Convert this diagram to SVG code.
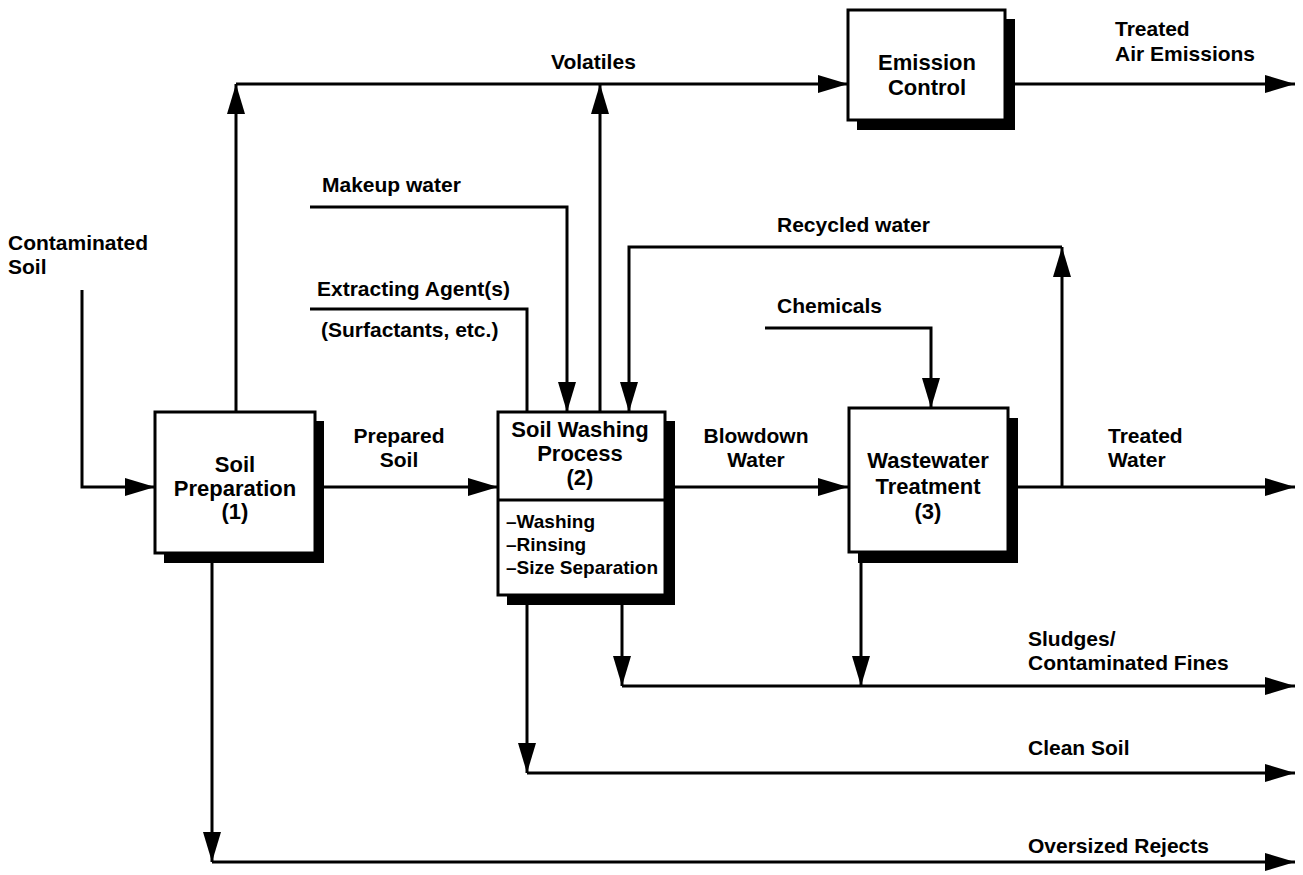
<svg xmlns="http://www.w3.org/2000/svg" width="1303" height="875" viewBox="0 0 1303 875">
<defs>
<marker id="ah" markerUnits="userSpaceOnUse" markerWidth="32" markerHeight="20" refX="30" refY="10" orient="auto">
<path d="M0,1 L30,10 L0,19 z" fill="#000"/>
</marker>
<style>
text{font-family:"Liberation Sans",Arial,sans-serif;font-weight:bold;font-size:21px;fill:#000}
.c{text-anchor:middle}
.t{font-size:22px}
.s{font-size:19px}
.box{fill:#fff;stroke:#000;stroke-width:3}
.sh{fill:#000}
.ln{fill:none;stroke:#000;stroke-width:3}
.ar{marker-end:url(#ah)}
</style>
</defs>
<rect width="1303" height="875" fill="#fff"/>

<g id="connectors">
<polyline class="ln ar" points="82,290 82,487 155,487"/>
<polyline class="ln ar" points="236,412 236,84"/>
<polyline class="ln ar" points="236,84 848,84"/>
<polyline class="ln ar" points="600,412 600,84"/>
<polyline class="ln ar" points="1006,84 1295,84"/>
<polyline class="ln ar" points="310,207 567,207 567,412"/>
<polyline class="ln" points="310,309 527,309 527,412"/>
<polyline class="ln ar" points="1062,487 1062,247"/>
<polyline class="ln ar" points="1062,247 629,247 629,412"/>
<polyline class="ln ar" points="765,328 931,328 931,408"/>
<polyline class="ln ar" points="324,487 498,487"/>
<polyline class="ln ar" points="675,487 848,487"/>
<polyline class="ln ar" points="1017,487 1295,487"/>
<polyline class="ln ar" points="622,605 622,686"/>
<polyline class="ln ar" points="861,563 861,686"/>
<polyline class="ln ar" points="622,686 1295,686"/>
<polyline class="ln ar" points="527,605 527,773"/>
<polyline class="ln ar" points="527,773 1295,773"/>
<polyline class="ln ar" points="212,563 212,862"/>
<polyline class="ln ar" points="212,862 1295,862"/>
</g>

<g id="labels">
<text x="551" y="69">Volatiles</text>
<text x="1115" y="36">Treated</text>
<text x="1115" y="61">Air Emissions</text>
<text x="8" y="250">Contaminated</text>
<text x="8" y="274">Soil</text>
<text x="322" y="192">Makeup water</text>
<text x="317" y="296">Extracting Agent(s)</text>
<text x="321" y="337">(Surfactants, etc.)</text>
<text x="777" y="232">Recycled water</text>
<text x="777" y="313">Chemicals</text>
<text class="c" x="399" y="443">Prepared</text>
<text class="c" x="399" y="467">Soil</text>
<text class="c" x="756" y="443">Blowdown</text>
<text class="c" x="756" y="467">Water</text>
<text x="1108" y="443">Treated</text>
<text x="1108" y="467">Water</text>
<text x="1028" y="646">Sludges/</text>
<text x="1028" y="670">Contaminated Fines</text>
<text x="1028" y="755">Clean Soil</text>
<text x="1028" y="853">Oversized Rejects</text>
</g>

<g id="soil-preparation">
<rect class="sh" x="164" y="421" width="160" height="142"/>
<rect class="box" x="155" y="412" width="160" height="141"/>
<text class="c t" x="235" y="472">Soil</text>
<text class="c t" x="235" y="496">Preparation</text>
<text class="c t" x="235" y="519">(1)</text>
</g>

<g id="soil-washing">
<rect class="sh" x="507" y="421" width="168" height="184"/>
<rect class="box" x="498" y="412" width="167" height="183"/>
<line x1="498" y1="500" x2="665" y2="500" stroke="#000" stroke-width="3"/>
<text class="c t" x="580" y="437">Soil Washing</text>
<text class="c t" x="580" y="461">Process</text>
<text class="c t" x="580" y="485">(2)</text>
<text class="s" x="506" y="528">–Washing</text>
<text class="s" x="506" y="551">–Rinsing</text>
<text class="s" x="506" y="574">–Size Separation</text>
</g>

<g id="wastewater-treatment">
<rect class="sh" x="858" y="418" width="160" height="145"/>
<rect class="box" x="849" y="408" width="159" height="144"/>
<text class="c t" x="928" y="468">Wastewater</text>
<text class="c t" x="928" y="494">Treatment</text>
<text class="c t" x="928" y="519">(3)</text>
</g>

<g id="emission-control">
<rect class="sh" x="857" y="19" width="158" height="111"/>
<rect class="box" x="848" y="10" width="157" height="110"/>
<text class="c t" x="927" y="70">Emission</text>
<text class="c t" x="927" y="95">Control</text>
</g>
</svg>
